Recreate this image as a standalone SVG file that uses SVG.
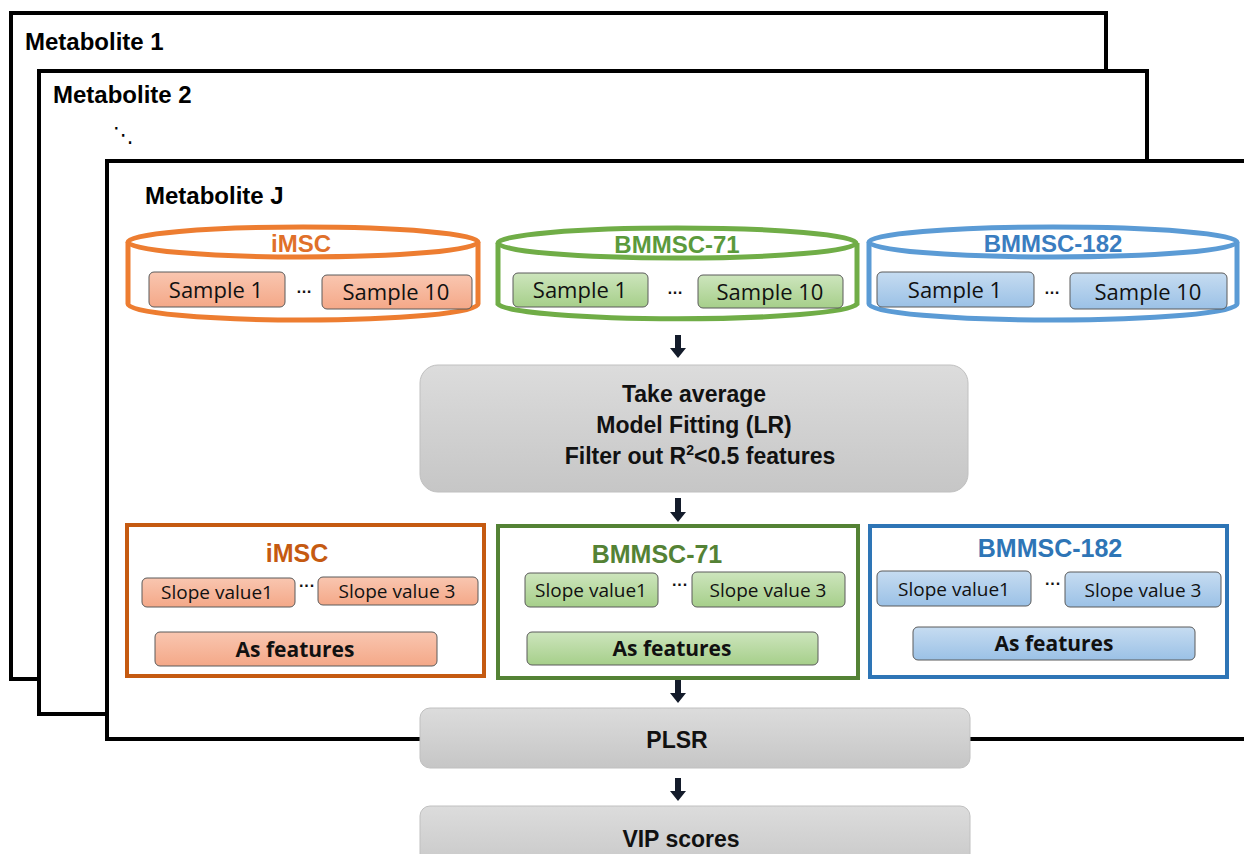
<svg xmlns="http://www.w3.org/2000/svg" width="1244" height="854" viewBox="0 0 1244 854">
<defs>
<linearGradient id="gO" x1="0" y1="0" x2="0" y2="1"><stop offset="0" stop-color="#F9C6B0"/><stop offset="1" stop-color="#F4A888"/></linearGradient>
<linearGradient id="gG" x1="0" y1="0" x2="0" y2="1"><stop offset="0" stop-color="#CDE5BD"/><stop offset="1" stop-color="#A6CF8A"/></linearGradient>
<linearGradient id="gB" x1="0" y1="0" x2="0" y2="1"><stop offset="0" stop-color="#C6DCF1"/><stop offset="1" stop-color="#9BC1E6"/></linearGradient>
<linearGradient id="gY" x1="0" y1="0" x2="0" y2="1"><stop offset="0" stop-color="#DCDCDC"/><stop offset="1" stop-color="#C6C6C6"/></linearGradient>
<style>
.frame{fill:#fff;stroke:#000;stroke-width:4}
.ftitle{font-family:"Liberation Sans",Arial,sans-serif;font-weight:bold;font-size:24px;fill:#000}
.cyl{fill:#fff;stroke-width:5}
.box{stroke:#5a5a5a;stroke-width:1}
.t{font-family:"Open Sans","Liberation Sans",sans-serif;font-size:22px;fill:#111;text-anchor:middle}
.ts{font-family:"Open Sans","Liberation Sans",sans-serif;font-size:19px;fill:#111;text-anchor:middle}
.tb{font-family:"Open Sans","Liberation Sans",sans-serif;font-weight:bold;font-size:21px;fill:#111;text-anchor:middle}
.lab{font-family:"Liberation Sans",Arial,sans-serif;font-weight:bold;font-size:24px;text-anchor:middle}
.lab2{font-family:"Liberation Sans",Arial,sans-serif;font-weight:bold;font-size:25px;text-anchor:middle}
.gtxt{font-family:"Liberation Sans",Arial,sans-serif;font-weight:bold;font-size:23px;fill:#111;text-anchor:middle}
.gray{fill:url(#gY);stroke:#c0c0c0;stroke-width:1}
.dots{font-family:"Liberation Sans",Arial,sans-serif;font-weight:bold;font-size:16px;fill:#111;text-anchor:middle}
.arr{fill:#141c2b}
</style>
</defs>
<rect width="1244" height="854" fill="#fff"/>

<g id="frame1"><rect class="frame" x="11" y="13" width="1095" height="666"/><text class="ftitle" x="25" y="50">Metabolite 1</text></g>
<g id="frame2"><rect class="frame" x="39" y="71" width="1108" height="643"/><text class="ftitle" x="53" y="103">Metabolite 2</text>
<text x="113" y="142" font-family="DejaVu Sans,sans-serif" font-size="21" fill="#000">⋱</text></g>
<g id="frame3"><rect class="frame" x="107" y="161" width="1200" height="578"/><text class="ftitle" x="145" y="204">Metabolite J</text></g>

<g id="cyl-imsc">
<path class="cyl" stroke="#ED7D31" d="M128,242 L128,304 A175,16 0 0 0 478,304 L478,242"/>
<ellipse class="cyl" stroke="#ED7D31" cx="303" cy="242" rx="175" ry="15"/>
<text class="lab" x="301" y="252" fill="#E0702A">iMSC</text>
<rect class="box" x="149" y="272" width="136" height="35" rx="5" fill="url(#gO)"/><text class="t" x="216" y="298">Sample 1</text>
<text class="dots" x="304" y="293">…</text>
<rect class="box" x="322" y="275" width="150" height="34" rx="5" fill="url(#gO)"/><text class="t" x="396" y="300">Sample 10</text>
</g>
<g id="cyl-bm71">
<path class="cyl" stroke="#70AD47" d="M498,243 L498,304 A180,16 0 0 0 857,304 L857,243"/>
<ellipse class="cyl" stroke="#70AD47" cx="677" cy="243" rx="179" ry="15"/>
<text class="lab" x="677" y="253" fill="#5B9A3C">BMMSC-71</text>
<rect class="box" x="513" y="273" width="135" height="34" rx="5" fill="url(#gG)"/><text class="t" x="580" y="298">Sample 1</text>
<text class="dots" x="675" y="294">…</text>
<rect class="box" x="698" y="275" width="145" height="33" rx="5" fill="url(#gG)"/><text class="t" x="770" y="300">Sample 10</text>
</g>
<g id="cyl-bm182">
<path class="cyl" stroke="#5B9BD5" d="M869,242 L869,304 A184,16 0 0 0 1237,304 L1237,242"/>
<ellipse class="cyl" stroke="#5B9BD5" cx="1053" cy="242" rx="184" ry="15"/>
<text class="lab" x="1053" y="252" fill="#3A7DC0">BMMSC-182</text>
<rect class="box" x="877" y="272" width="157" height="35" rx="5" fill="url(#gB)"/><text class="t" x="955" y="298">Sample 1</text>
<text class="dots" x="1052" y="294">…</text>
<rect class="box" x="1070" y="273" width="157" height="36" rx="5" fill="url(#gB)"/><text class="t" x="1148" y="300">Sample 10</text>
</g>

<g id="fit">
<rect class="gray" x="420" y="365" width="548" height="127" rx="18"/>
<text class="gtxt" x="694" y="402">Take average</text>
<text class="gtxt" x="694" y="433">Model Fitting (LR)</text>
<text class="gtxt" x="700" y="464">Filter out R<tspan font-size="14" dy="-9">2</tspan><tspan dy="9">&lt;0.5 features</tspan></text>
</g>

<g id="res-imsc">
<rect x="127" y="525" width="357" height="151" fill="#fff" stroke="#C55A11" stroke-width="4"/>
<text class="lab2" x="297" y="562" fill="#C55A11">iMSC</text>
<rect class="box" x="142" y="578" width="153" height="29" rx="5" fill="url(#gO)"/><text class="ts" x="217" y="599">Slope value1</text>
<text class="dots" x="307" y="591">···</text>
<rect class="box" x="318" y="577" width="160" height="28" rx="5" fill="url(#gO)"/><text class="ts" x="397" y="598">Slope value 3</text>
<rect class="box" x="155" y="632" width="282" height="34" rx="5" fill="url(#gO)"/><text class="tb" x="295" y="657">As features</text>
</g>
<g id="res-bm71">
<rect x="498" y="526" width="360" height="152" fill="#fff" stroke="#548235" stroke-width="4"/>
<text class="lab2" x="657" y="563" fill="#548235">BMMSC-71</text>
<rect class="box" x="525" y="573" width="133" height="34" rx="5" fill="url(#gG)"/><text class="ts" x="591" y="597">Slope value1</text>
<text class="dots" x="680" y="590">···</text>
<rect class="box" x="692" y="572" width="153" height="35" rx="5" fill="url(#gG)"/><text class="ts" x="768" y="597">Slope value 3</text>
<rect class="box" x="527" y="632" width="291" height="33" rx="5" fill="url(#gG)"/><text class="tb" x="672" y="656">As features</text>
</g>
<g id="res-bm182">
<rect x="870" y="526" width="357" height="151" fill="#fff" stroke="#2E75B6" stroke-width="4"/>
<text class="lab2" x="1050" y="557" fill="#2E75B6">BMMSC-182</text>
<rect class="box" x="877" y="571" width="154" height="35" rx="5" fill="url(#gB)"/><text class="ts" x="954" y="596">Slope value1</text>
<text class="dots" x="1053" y="589">···</text>
<rect class="box" x="1065" y="572" width="156" height="35" rx="5" fill="url(#gB)"/><text class="ts" x="1143" y="597">Slope value 3</text>
<rect class="box" x="913" y="627" width="282" height="33" rx="5" fill="url(#gB)"/><text class="tb" x="1054" y="651">As features</text>
</g>

<g id="plsr">
<rect class="gray" x="420" y="708" width="550" height="60" rx="10"/>
<text class="gtxt" x="677" y="748" font-size="27">PLSR</text>
</g>
<g id="vip">
<rect class="gray" x="420" y="806" width="550" height="70" rx="10"/>
<text class="gtxt" x="681" y="847" font-size="27">VIP scores</text>
</g>

<g id="connectors">
<path class="arr" d="M675,335 h6 v13 h5 l-8,10 l-8,-10 h5 z"/>
<path class="arr" d="M675,498 h6 v14 h5 l-8,10 l-8,-10 h5 z"/>
<path class="arr" d="M675,680 h6 v13 h5 l-8,10 l-8,-10 h5 z"/>
<path class="arr" d="M675,778 h6 v13 h5 l-8,10 l-8,-10 h5 z"/>
</g>
</svg>
